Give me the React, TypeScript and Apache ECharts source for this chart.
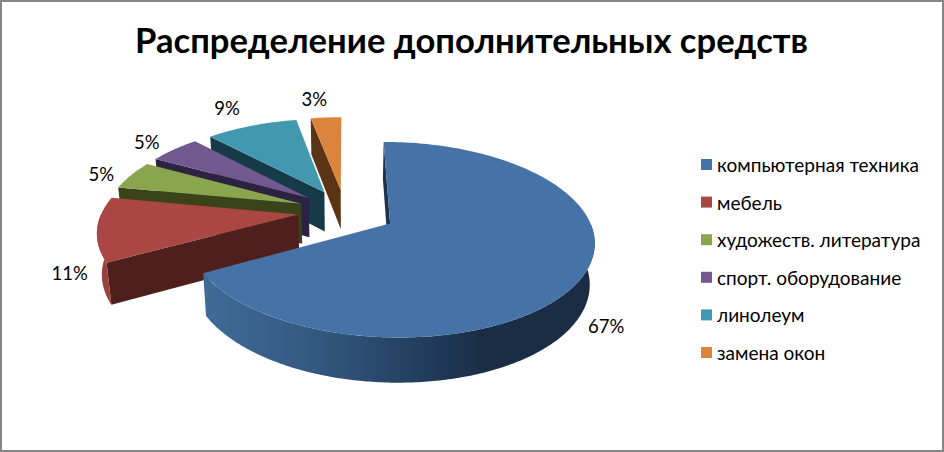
import React, { useEffect, useRef } from "react";
import * as echarts from "echarts";

const categories = ["компьютерная техника", "мебель", "художеств. литература", "спорт. оборудование", "линолеум", "замена окон"];
const shares = [67, 11, 5, 5, 9, 3];
const topColors = ["#4572A7", "#AA4643", "#89A54E", "#71588F", "#4198AF", "#DB843D"];
const wallColors = ["#1B3350", "#4E1F1C", "#3A4219", "#2C2242", "#163A48", "#5A3414"];
const explodeScale = [1.09, 1, 1, 1, 1, 1];
const titleText = "Распределение дополнительных средств";
const FONT = "Lato";

// Perspective projection of the exploded 3D pie
const CX = 345, CY = 211, RX = 196, RY = 91, K = 0.163, DEPTH = 40, EXPLODE = 0.24, BOTTOM_SHRINK = 0.98;
const labelRadius = 1.135;
const labelNudge: [number, number][] = [[0, -1], [-5, 1], [-8, 2], [-11, -2], [-16, -10], [-10, -10]];
const labelDrop = [1, 1, 0, 0, 0, 0];

function project(X: number, Y: number, bottom: boolean): [number, number] {
  const s = 1 / (1 - K * Y);
  const x = CX + RX * X * s;
  const y = CY + RY * Y * s;
  if (!bottom) return [x, y];
  return [CX + (x - CX) * BOTTOM_SHRINK, y + DEPTH * Math.pow(s, 0.6)];
}

const rad = (pct: number) => (pct / 100) * Math.PI * 2;

function sliceChildren(i: number) {
  const start = rad(shares.slice(0, i).reduce((a, b) => a + b, 0));
  const end = start + rad(shares[i]);
  const mid = (start + end) / 2;
  const ax = EXPLODE * explodeScale[i] * Math.sin(mid);
  const ay = -EXPLODE * explodeScale[i] * Math.cos(mid);
  const steps = Math.max(12, Math.round(shares[i] * 3));
  const point = (a: number, bottom: boolean) => project(ax + Math.sin(a), ay - Math.cos(a), bottom);
  const top: [number, number][] = [];
  for (let n = 0; n <= steps; n++) top.push(point(start + ((end - start) * n) / steps, false));
  const apexT = project(ax, ay, false);
  const apexB = project(ax, ay, true);
  const parts: any[] = [
    { type: "polygon", shape: { points: [top[0], apexT, apexB, point(start, true)] }, style: { fill: wallColors[i] } },
  ];
  // The rim can only be seen on the half of the circle that faces the viewer.
  const rimFrom = Math.max(start, Math.PI / 2);
  const rimTo = Math.min(end, (Math.PI * 3) / 2);
  if (rimTo > rimFrom) {
    const rt: [number, number][] = [];
    const rb: [number, number][] = [];
    for (let n = 0; n <= steps; n++) {
      const a = rimFrom + ((rimTo - rimFrom) * n) / steps;
      rt.push(point(a, false));
      rb.push(point(a, true));
    }
    const rimFill =
      i === 0
        ? new echarts.graphic.LinearGradient(203, 0, 594, 0, [
            { offset: 0, color: "#3F6B98" },
            { offset: 0.3, color: "#33577F" },
            { offset: 0.58, color: "#213B5A" },
            { offset: 0.72, color: "#1A2D45" },
            { offset: 1, color: "#1A2D45" },
          ], true)
        : "#9A413E";
    parts.push({ type: "polygon", shape: { points: [...rt, ...rb.reverse()] }, style: { fill: rimFill } });
  }
  parts.push({ type: "polygon", shape: { points: [apexT, ...top] }, style: { fill: topColors[i] } });
  const lp = project(ax + labelRadius * Math.sin(mid), ay - labelRadius * Math.cos(mid), labelDrop[i] === 1);
  parts.push({
    type: "text",
    style: {
      text: shares[i] + "%",
      x: lp[0] + labelNudge[i][0],
      y: lp[1] + labelNudge[i][1],
      fill: "#000",
      font: `18.5px ${FONT}`,
      textAlign: "center",
      textVerticalAlign: "middle",
    },
  });
  return parts;
}

export default function App() {
  const ref = useRef<HTMLDivElement>(null);
  useEffect(() => {
    document.body.style.margin = "0";
    const chart = echarts.init(ref.current!, undefined, { renderer: "svg" });
    chart.setOption({
      animation: false,
      backgroundColor: "#fff",
      title: {
        text: titleText,
        left: 466.5,
        top: 17,
        textAlign: "center",
        textStyle: { fontFamily: FONT, fontWeight: "bold", fontSize: 34.6, color: "#000" },
      },
      legend: {
        orient: "vertical",
        left: 701,
        top: 155,
        padding: 0,
        icon: "rect",
        itemWidth: 11,
        itemHeight: 11,
        itemGap: 18.6,
        selectedMode: false,
        data: categories,
        textStyle: { fontFamily: FONT, fontSize: 19.05, color: "#000" },
      },
      graphic: [
        { type: "rect", shape: { x: 1, y: 1, width: 942, height: 450 }, style: { fill: "none", stroke: "#868686", lineWidth: 2 }, silent: true },
      ],
      series: categories.map((name, i) => ({
        type: "custom",
        name,
        coordinateSystem: "none",
        z: 10 - i,
        itemStyle: { color: topColors[i] },
        data: [[shares[i]]],
        silent: true,
        renderItem: () => ({ type: "group", children: sliceChildren(i) }),
      })),
    });
    return () => chart.dispose();
  }, []);
  return <div ref={ref} style={{ width: 944, height: 452 }} />;
}
